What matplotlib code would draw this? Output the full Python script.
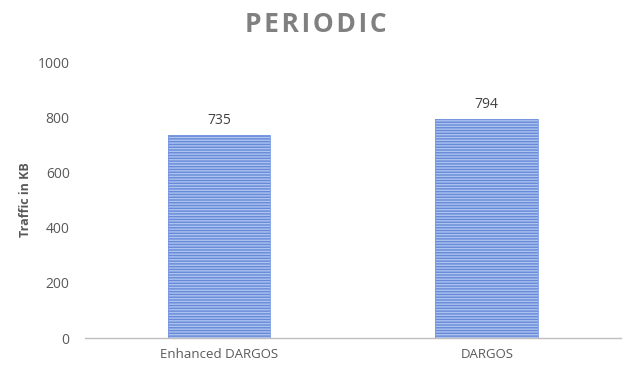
import matplotlib
matplotlib.use("Agg")
import matplotlib.pyplot as plt

categories = ["Enhanced DARGOS", "DARGOS"]
values = [735, 794]
yticks = [0, 200, 400, 600, 800, 1000]

plt.rcParams['font.family'] = ['Open Sans', 'DejaVu Sans']
plt.rcParams['hatch.linewidth'] = 1.0

fig = plt.figure(figsize=(6.27, 3.66), dpi=100)
ax = fig.add_axes([0.1356, 0.0765, 0.8544, 0.754])

x = list(range(len(categories)))
ax.bar(x, values, width=0.384, color='#6689d8', edgecolor='#adc4f0',
       linewidth=0, hatch='------', zorder=2)
ax.bar(x, values, width=0.384, fill=False, edgecolor='#7898e0', linewidth=0.6, zorder=3)

for xi, v in zip(x, values):
    ax.text(xi, v + 25, str(v), ha='center', va='bottom', fontsize=10, color='#404040')

ax.set_xlim(-0.5, 1.5)
ax.set_ylim(0, 1000)
ax.set_yticks(yticks)
ax.set_xticks(x)
ax.set_xticklabels(categories)
for s in ['top', 'right', 'left']:
    ax.spines[s].set_visible(False)
ax.spines['bottom'].set_color('#bfbfbf')
ax.spines['bottom'].set_linewidth(1.0)
ax.tick_params(axis='y', length=0, labelsize=10, colors='#595959', pad=11)
ax.tick_params(axis='x', length=0, labelsize=9.5, colors='#595959', pad=7)
ax.set_ylabel('Traffic in KB', fontsize=9, fontweight='bold', color='#595959', labelpad=4)

title = '\u200a'.join('PERIODIC')
fig.text(0.503, 0.932, title, ha='center', va='center', fontsize=19,
         fontweight='bold', color='#808080', family=['Open Sans', 'DejaVu Sans'])

fig.savefig('out.png', dpi=100)
